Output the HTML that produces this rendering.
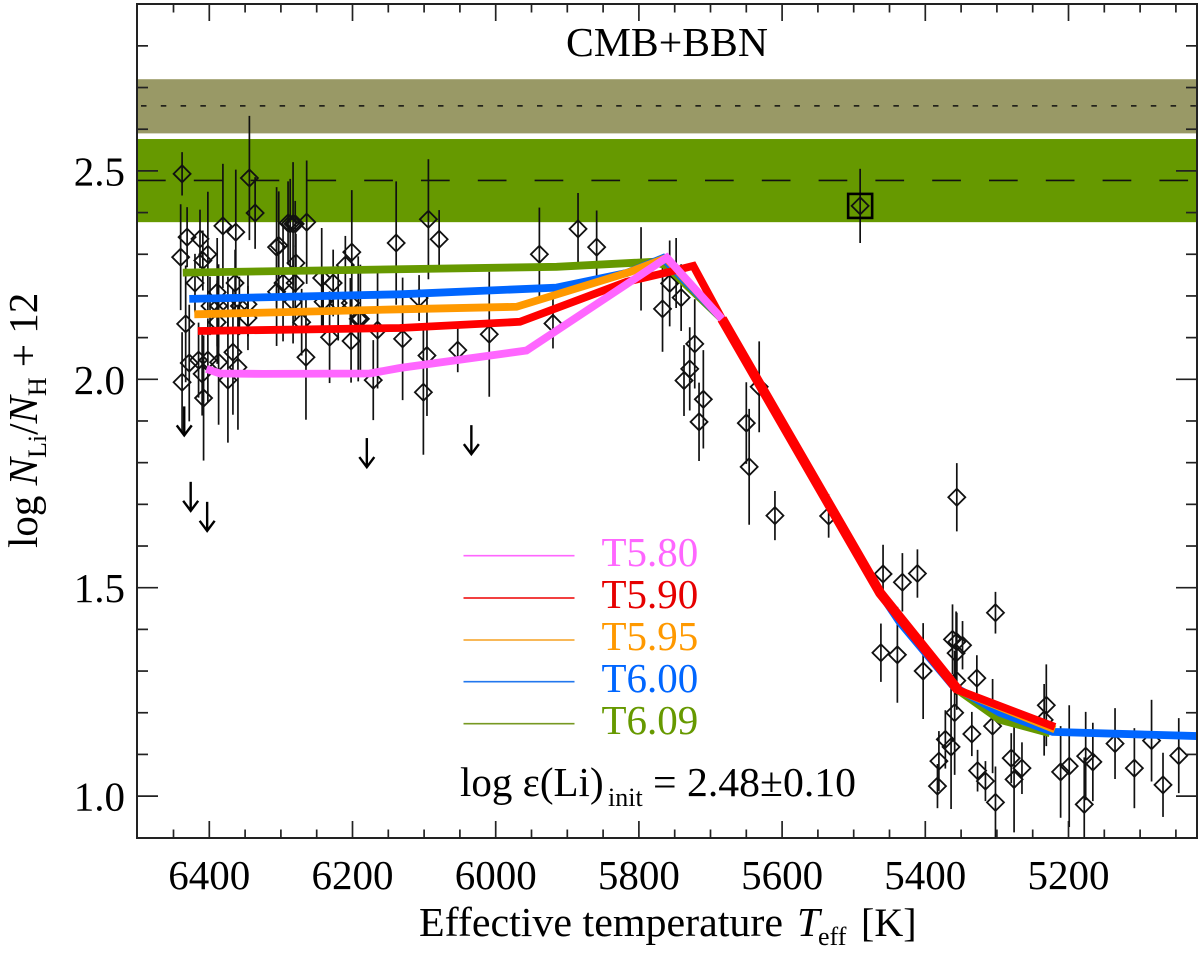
<!DOCTYPE html>
<html lang="en">
<head>
<meta charset="utf-8">
<title>Lithium abundance vs effective temperature</title>
<style>
html,body{margin:0;padding:0;background:#fff;}
svg{display:block;}
text{font-family:"Liberation Serif","DejaVu Serif",serif;fill:#000;}
</style>
</head>
<body>
<svg id="chart" xmlns="http://www.w3.org/2000/svg" width="1200" height="959" viewBox="0 0 1200 959">
  <defs><clipPath id="plot-clip"><rect x="137" y="4" width="1060" height="834"/></clipPath></defs>
  <g id="bands" clip-path="url(#plot-clip)"></g>
  <g id="stars" clip-path="url(#plot-clip)"></g>
  <g id="models" clip-path="url(#plot-clip)"></g>
  <g id="axes"></g>

  <text x="566" y="56" font-size="41" textLength="202" lengthAdjust="spacingAndGlyphs">CMB+BBN</text>

  <g>
    <line x1="463.5" x2="574.5" y1="555.7" y2="555.7" stroke="#ff66ff" stroke-width="1.6"/>
    <line x1="463.5" x2="574.5" y1="598" y2="598" stroke="#ee0000" stroke-width="1.6"/>
    <line x1="463.5" x2="574.5" y1="640" y2="640" stroke="#f5a020" stroke-width="1.6"/>
    <line x1="463.5" x2="574.5" y1="681.7" y2="681.7" stroke="#2277ee" stroke-width="1.6"/>
    <line x1="463.5" x2="574.5" y1="723.7" y2="723.7" stroke="#779922" stroke-width="1.6"/>
    <text x="601.5" y="566" font-size="41" style="fill:#ff66ff">T5.80</text>
    <text x="601.5" y="608" font-size="41" style="fill:#e60000">T5.90</text>
    <text x="601.5" y="650" font-size="41" style="fill:#ff9900">T5.95</text>
    <text x="601.5" y="692" font-size="41" style="fill:#0066ff">T6.00</text>
    <text x="601.5" y="734" font-size="41" style="fill:#669900">T6.09</text>
  </g>

  <g>
    <text x="460" y="796" font-size="41">log ε(Li)</text>
    <text x="608" y="806" font-size="26">init</text>
    <text x="653" y="796" font-size="41" textLength="203" lengthAdjust="spacingAndGlyphs">= 2.48±0.10</text>
  </g>

  <g>
    <text x="419" y="936" font-size="41" textLength="364" lengthAdjust="spacingAndGlyphs">Effective temperature</text>
    <text x="797" y="936" font-size="41" font-style="italic">T</text>
    <text x="818" y="945" font-size="26">eff</text>
    <text x="861" y="936" font-size="40">[K]</text>
  </g>

  <text transform="translate(37,548) rotate(-90)" font-size="41">log <tspan font-style="italic">N</tspan><tspan font-size="26" dy="9">Li</tspan><tspan dy="-9">/</tspan><tspan font-style="italic">N</tspan><tspan font-size="26" dy="9">H</tspan><tspan dy="-9"> + 12</tspan></text>
</svg>

<script>
// Star measurements: effective temperature (K)
var starTeff = [
6438,6344,6336,6381,6363,6431,6413,6440,6409,6306,6303,6420,6364,6389,6402,6399,6387,6374,6358,6346,6389,6346,6433,6428,6438,6415,6402,6410,6408,6387,6367,6360,6374,
6139,6201,6264,6287,6283,6280,6290,6279,6210,6227,6243,6306,6297,6280,6271,6283,6241,6220,6203,6192,6189,6165,6232,6202,6130,6265,6171,
6094,6079,5939,5885,5859,5797,6107,6096,6101,6053,6009,5920,5757,5741,5767,5748,5722,5729,5737,5710,5716,5632,5650,5646,5610,5535,5491,
5356,5459,5432,5411,5302,5462,5439,5403,5362,5356,5348,5357,5356,5359,5328,5335,5306,5231,5234,5372,5364,5381,5383,5327,5316,5302,5280,5276,5265,
5211,5199,5176,5178,5166,5135,5108,5084,5068,5046
];
// Star measurements: log N(Li)/N(H) + 12
var starLogLi = [
2.493,2.483,2.399,2.368,2.353,2.341,2.337,2.293,2.285,2.317,2.321,2.231,2.231,2.209,2.300,2.176,2.176,2.176,2.176,2.180,2.137,2.147,2.133,2.039,1.993,2.046,2.046,2.013,1.955,2.041,2.065,2.029,1.998,
2.327,2.305,2.377,2.373,2.373,2.373,2.375,2.279,2.274,2.231,2.243,2.210,2.231,2.231,2.137,2.186,2.186,2.183,2.183,2.145,2.145,2.118,2.101,2.092,2.097,2.053,1.998,
2.384,2.336,2.300,2.361,2.317,2.265,2.195,2.057,1.969,2.070,2.108,2.134,2.230,2.196,2.169,2.255,2.085,2.025,1.997,1.952,1.898,1.982,1.895,1.790,1.673,1.672,2.416,
1.717,1.533,1.513,1.534,1.440,1.344,1.339,1.300,1.376,1.370,1.362,1.343,1.277,1.200,1.283,1.149,1.168,1.218,1.183,1.136,1.118,1.084,1.024,1.061,1.036,0.985,1.091,1.040,1.067,
1.058,1.072,1.096,0.980,1.082,1.126,1.067,1.133,1.027,1.097
];
// Star measurements: symmetric uncertainty (dex)
var starError = [
0.052,0.149,0.086,0.149,0.150,0.072,0.070,0.127,0.072,0.144,0.130,0.070,0.080,0.130,0.150,0.070,0.100,0.070,0.070,0.077,0.100,0.077,0.140,0.140,0.120,0.090,0.100,0.100,0.150,0.150,0.150,0.150,0.150,
0.148,0.149,0.148,0.108,0.148,0.055,0.100,0.070,0.070,0.080,0.120,0.130,0.140,0.090,0.080,0.100,0.070,0.090,0.060,0.150,0.130,0.140,0.110,0.100,0.147,0.150,0.096,
0.144,0.070,0.112,0.086,0.088,0.100,0.055,0.145,0.150,0.053,0.150,0.060,0.103,0.080,0.103,0.084,0.107,0.100,0.085,0.118,0.094,0.109,0.098,0.139,0.059,0.052,0.089,
0.082,0.070,0.070,0.058,0.050,0.070,0.115,0.115,0.084,0.070,0.058,0.100,0.070,0.149,0.055,0.053,0.113,0.098,0.086,0.070,0.149,0.072,0.053,0.050,0.048,0.086,0.060,0.127,0.062,
0.110,0.146,0.106,0.113,0.094,0.085,0.096,0.098,0.077,0.090
];
// Upper limits
var limitTeff = [6435,6180,6426,6403,6034];
var limitLogLi = [1.935,1.859,1.754,1.706,1.890];
// Highlighted star
var boxedTeff = [5491];
var boxedLogLi = [2.416];

// Model curves
var t609Teff = [6437,5915,5780,5763,5684,5463,5354,5296,5226];
var t609Li   = [2.256,2.270,2.282,2.274,2.145,1.487,1.254,1.183,1.151];
var t600Teff = [6428,6134,5915,5817,5766,5684,5463,5436,5361,5296,5222,5019];
var t600Li   = [2.193,2.204,2.220,2.255,2.291,2.145,1.487,1.418,1.264,1.200,1.154,1.144];
var t595Teff = [6421,6134,5971,5812,5762,5684,5463,5354,5219];
var t595Li   = [2.156,2.168,2.174,2.258,2.291,2.145,1.487,1.254,1.160];
var t590Teff = [6416,6134,5966,5817,5757,5724,5684,5463,5354,5219];
var t590Li   = [2.116,2.123,2.138,2.234,2.258,2.272,2.145,1.487,1.254,1.166];
var t580Teff = [6404,6385,6325,6176,6134,5957,5761,5684];
var t580Li   = [2.025,2.014,2.013,2.014,2.027,2.069,2.292,2.145];

// Reference bands and lines
var cmbBand = [2.59,2.72];
var cmbMean = [2.656];
var initBand = [2.377,2.5765];
var initMean = [2.477];

// Axis ticks
var xMajorTicks = [6400,6200,6000,5800,5600,5400,5200];
var xMinorTicks = [6450,6350,6300,6250,6150,6100,6050,5950,5900,5850,5750,5700,5650,5550,5500,5450,5350,5300,5250,5150,5100,5050];
var yMajorTicks = [1.0,1.5,2.0,2.5];
var yMinorTicks = [1.1,1.2,1.3,1.4,1.6,1.7,1.8,1.9,2.1,2.2,2.3,2.4,2.6,2.7,2.8];
var xTickLabels = ["6400","6200","6000","5800","5600","5400","5200"];
var yTickLabels = ["1.0","1.5","2.0","2.5"];

var NS = "http://www.w3.org/2000/svg";
var LEFT = 137, RIGHT = 1197, TOP = 4, BOTTOM = 838;
function xScale(t){ return 495.7 + (6000 - t) * 0.716; }
function yScale(v){ return 379.3 - (v - 2) * 416.8; }

function make(tag, parent, attrs){
  var el = document.createElementNS(NS, tag);
  for (var k in attrs) el.setAttribute(k, attrs[k]);
  parent.appendChild(el);
  return el;
}

var bands = document.getElementById('bands');
var cmbRect = make('rect', bands, {x:LEFT, width:RIGHT-LEFT, y:yScale(cmbBand[1]), height:yScale(cmbBand[0])-yScale(cmbBand[1]), fill:'#999966'});


var initRect = make('rect', bands, {x:LEFT, width:RIGHT-LEFT, y:yScale(initBand[1]), height:yScale(initBand[0])-yScale(initBand[1]), fill:'#669900'});


var cmbLine = make('line', bands, {x1:LEFT, x2:RIGHT, y1:yScale(cmbMean[0]), y2:yScale(cmbMean[0]), stroke:'#111', 'stroke-width':1.6, 'stroke-dasharray':'5.5 14.3', 'stroke-dashoffset':'-4'});


var initLine = make('line', bands, {x1:LEFT, x2:RIGHT, y1:yScale(initMean[0]), y2:yScale(initMean[0]), stroke:'#111', 'stroke-width':1.6, 'stroke-dasharray':'28.7 28.1', 'stroke-dashoffset':'0'});



var stars = document.getElementById('stars');
function drawStar(t, v, e){
  var x = xScale(t), y = yScale(v), r = 8.5;
  var bar = make('line', stars, {x1:x, x2:x, y1:yScale(v+e), y2:yScale(v-e), stroke:'#111', 'stroke-width':1.7});
  
  
  var d = make('polygon', stars, {points:[x,y-r,x+r,y,x,y+r,x-r,y].join(' '), fill:'none', stroke:'#111', 'stroke-width':1.8});
  
  
}
starTeff.forEach(function(t, i){ drawStar(t, starLogLi[i], starError[i]); });

boxedTeff.forEach(function(t, i){
  var x = xScale(t), y = yScale(boxedLogLi[i]);
  var box = make('rect', stars, {x:x-12, y:y-12, width:24, height:24, fill:'none', stroke:'#000', 'stroke-width':2.6});
  
  
});

limitTeff.forEach(function(t, i){
  var x = xScale(t), y = yScale(limitLogLi[i]), len = 29;
  var shaft = make('line', stars, {x1:x, x2:x, y1:y, y2:y+len, stroke:'#000', 'stroke-width':2.4});
  
  
  var head = make('polyline', stars, {points:[x-7.5,y+len-10,x,y+len,x+7.5,y+len-10].join(' '), fill:'none', stroke:'#000', 'stroke-width':2.4});
  
  
});

var models = document.getElementById('models');
function drawCurve(ts, vs, color, width){
  var pts = ts.map(function(t, i){ return xScale(t).toFixed(1) + ',' + yScale(vs[i]).toFixed(1); }).join(' ');
  return make('polyline', models, {points:pts, fill:'none', stroke:color, 'stroke-width':width, 'stroke-linejoin':'miter'});
}
var c609 = drawCurve(t609Teff, t609Li, '#669900', 7.8);


var c600 = drawCurve(t600Teff, t600Li, '#0066ff', 7.8);


var c595 = drawCurve(t595Teff, t595Li, '#ff9900', 7.8);


var c590 = drawCurve(t590Teff, t590Li, '#ff0000', 7.8);


var c590Steep = drawCurve(t590Teff.slice(6, 9), t590Li.slice(6, 9), '#ff0000', 10);


var c580 = drawCurve(t580Teff, t580Li, '#ff66ff', 7.8);



var axes = document.getElementById('axes');
var AX = '#222';
var frame = make('rect', axes, {x:LEFT, y:TOP, width:RIGHT-LEFT, height:BOTTOM-TOP, fill:'none', stroke:AX, 'stroke-width':2});



function xTick(t, len){
  var x = xScale(t);
  var a = make('line', axes, {x1:x, x2:x, y1:BOTTOM, y2:BOTTOM-len, stroke:AX, 'stroke-width':1.7});
  
  
  var b = make('line', axes, {x1:x, x2:x, y1:TOP, y2:TOP+len, stroke:AX, 'stroke-width':1.7});
  
  
}
function yTick(v, len){
  var y = yScale(v);
  var a = make('line', axes, {x1:LEFT, x2:LEFT+len, y1:y, y2:y, stroke:AX, 'stroke-width':1.7});
  
  
  var b = make('line', axes, {x1:RIGHT, x2:RIGHT-len, y1:y, y2:y, stroke:AX, 'stroke-width':1.7});
  
  
}
xMajorTicks.forEach(function(t){ xTick(t, 17); });
xMinorTicks.forEach(function(t){ xTick(t, 8.5); });
yMajorTicks.forEach(function(v){ yTick(v, 21); });
yMinorTicks.forEach(function(v){ yTick(v, 11); });

xMajorTicks.forEach(function(t, i){
  var lab = make('text', axes, {x:xScale(t), y:889, 'font-size':41, 'text-anchor':'middle'});
  lab.textContent = xTickLabels[i];
  
  
});
yMajorTicks.forEach(function(v, i){
  var lab = make('text', axes, {x:125, y:yScale(v)+14.5, 'font-size':41, 'text-anchor':'end'});
  lab.textContent = yTickLabels[i];
  
  
});
</script>
</body>
</html>
